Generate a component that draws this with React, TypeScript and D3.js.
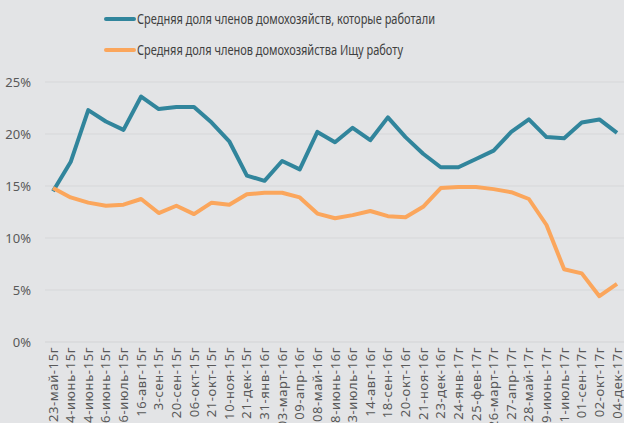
import React, { useEffect, useRef } from 'react';
import * as d3 from 'd3';

const dates = [
  '23-май-15г', '04-июнь-15г', '14-июнь-15г', '26-июнь-15г', '16-июль-15г', '16-авг-15г',
  '3-сен-15г', '20-сен-15г', '06-окт-15г', '21-окт-15г', '10-ноя-15г', '21-дек-15г',
  '31-янв-16г', '03-март-16г', '09-апр-16г', '08-май-16г', '08-июнь-16г', '03-июль-16г',
  '14-авг-16г', '18-сен-16г', '20-окт-16г', '21-ноя-16г', '23-дек-16г', '24-янв-17г',
  '25-фев-17г', '26-март-17г', '27-апр-17г', '28-май-17г', '09-июнь-17г', '01-июль-17г',
  '01-сен-17г', '02-окт-17г', '04-дек-17г',
];

const working = [
  14.5, 17.3, 22.3, 21.2, 20.4, 23.6, 22.4, 22.6, 22.6, 21.1, 19.3, 16.0,
  15.5, 17.4, 16.6, 20.2, 19.2, 20.6, 19.4, 21.6, 19.7, 18.1, 16.8, 16.8,
  17.6, 18.4, 20.2, 21.4, 19.7, 19.6, 21.1, 21.4, 20.1,
];

const seeking = [
  14.8, 13.9, 13.4, 13.1, 13.2, 13.75, 12.4, 13.1, 12.3, 13.4, 13.2, 14.2,
  14.35, 14.35, 13.9, 12.35, 11.9, 12.2, 12.6, 12.1, 12.0, 13.0, 14.8, 14.9,
  14.9, 14.7, 14.4, 13.75, 11.25, 7.0, 6.6, 4.4, 5.6,
];

const yTicks = [0, 5, 10, 15, 20, 25];

const series = [
  { name: 'Средняя доля членов домохозяйств, которые работали', values: working, color: '#31859c', len: 298 },
  { name: 'Средняя доля членов домохозяйства Ищу работу', values: seeking, color: '#fba65c', len: 266 },
];

const W = 624;
const H = 423;

const App = () => {
  const svgRef = useRef<SVGSVGElement>(null);

  useEffect(() => {
    document.body.style.margin = '0';
    const svg = d3.select(svgRef.current);
    svg.selectAll('*').remove();

    const font = 'Noto Sans, sans-serif';

    svg.append('rect').attr('width', W).attr('height', H).attr('fill', '#e3e4e6');

    const x = d3.scalePoint().domain(dates).range([53, 617]);
    const y = d3.scaleLinear().domain([0, 25]).range([342, 82]);

    // grid
    svg.append('g')
      .selectAll('line')
      .data(yTicks)
      .join('line')
      .attr('x1', 45)
      .attr('x2', W)
      .attr('y1', (d) => y(d))
      .attr('y2', (d) => y(d))
      .attr('stroke', (d) => (d === 0 ? '#d2d3d5' : '#d6d7d9'))
      .attr('stroke-width', 1);

    svg.append('g')
      .selectAll('text')
      .data(yTicks)
      .join('text')
      .attr('x', 31)
      .attr('y', (d) => y(d))
      .attr('dy', '0.35em')
      .attr('text-anchor', 'end')
      .attr('font-family', font)
      .attr('font-size', 13)
      .attr('fill', '#595959')
      .text((d) => `${d}%`);

    svg.append('g')
      .selectAll('text')
      .data(dates)
      .join('text')
      .attr('transform', (d) => `translate(${x(d)! + 4.5},347) rotate(-90)`)
      .attr('text-anchor', 'end')
      .attr('font-family', font)
      .attr('font-size', 13)
      .attr('letter-spacing', 0.6)
      .attr('fill', '#595959')
      .text((d) => d);

    const line = d3
      .line<number>()
      .x((_, i) => x(dates[i])!)
      .y((d) => y(d));

    series.forEach((s) => {
      svg.append('path')
        .datum(s.values)
        .attr('d', line)
        .attr('fill', 'none')
        .attr('stroke', s.color)
        .attr('stroke-width', 4)
        .attr('stroke-linejoin', 'round');
    });

    // legend
    const legend = svg.append('g');
    series.forEach((s, i) => {
      const ly = 19 + i * 31;
      legend.append('line')
        .attr('x1', 106)
        .attr('x2', 134)
        .attr('y1', ly)
        .attr('y2', ly)
        .attr('stroke', s.color)
        .attr('stroke-width', 4)
        .attr('stroke-linecap', 'round');
      legend.append('text')
        .attr('x', 137)
        .attr('y', ly)
        .attr('dy', '0.35em')
        .attr('font-family', font)
        .attr('font-size', 14)
        .attr('textLength', s.len)
        .attr('lengthAdjust', 'spacingAndGlyphs')
        .attr('fill', '#404040')
        .text(s.name);
    });
  }, []);

  return <svg ref={svgRef} width={W} height={H} style={{ display: 'block' }} />;
};

export default App;
